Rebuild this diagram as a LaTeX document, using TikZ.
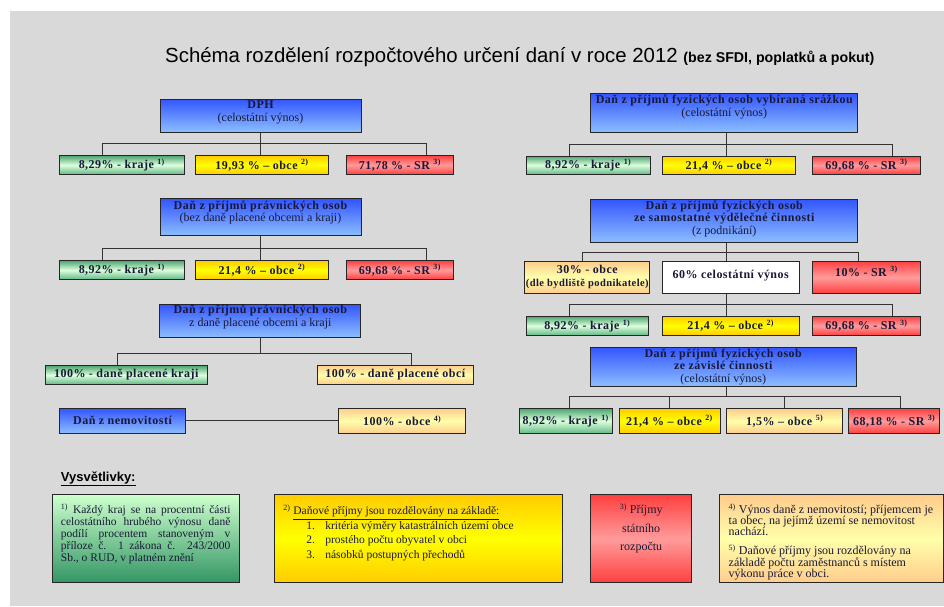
\documentclass[tikz,border=0pt]{standalone}
\usepackage{fontspec}
\setmainfont{Liberation Serif}[BoldFeatures={LetterSpace=4.0}]
\newfontfamily\headfont{Liberation Sans}
\usetikzlibrary{positioning, calc}

\definecolor{bgGray}{RGB}{217,217,217}
\definecolor{inkBlue}{RGB}{25,25,55}
\definecolor{blueTop}{RGB}{51,85,255}
\definecolor{blueBot}{RGB}{140,190,255}
\definecolor{greenTop}{RGB}{80,165,115}
\definecolor{greenMid}{RGB}{220,255,220}
\definecolor{greenBot}{RGB}{100,185,135}
\definecolor{yelTop}{RGB}{255,204,0}
\definecolor{yelMid}{RGB}{255,255,0}
\definecolor{redTop}{RGB}{255,64,64}
\definecolor{redMid}{RGB}{255,155,155}
\definecolor{orTop}{RGB}{255,204,140}
\definecolor{orMid}{RGB}{255,255,170}
\definecolor{legGreenTop}{RGB}{204,255,204}
\definecolor{legGreenBot}{RGB}{51,150,100}

\newcommand{\fnref}[1]{\textsuperscript{#1)}}
\newcommand{\subline}[1]{{\mdseries #1}}

\tikzset{
  box/.style={draw=black!85, line width=1pt, inner sep=1pt, align=center, text=inkBlue,
    font=\fontsize{12}{12.5}\selectfont\bfseries},
  taxbox/.style={box, top color=blueTop, bottom color=blueBot},
  krajbox/.style={box, top color=greenTop, bottom color=greenBot, middle color=greenMid},
  obecbox/.style={box, top color=yelTop, bottom color=yelTop, middle color=yelMid},
  srbox/.style={box, top color=redTop, bottom color=redTop, middle color=redMid},
  restbox/.style={box, top color=orTop, bottom color=orTop, middle color=orMid},
  lift/.style={text depth=#1},
  link/.style={draw=black!80, line width=0.8pt},
  legbox/.style={draw=black!85, line width=1pt, inner sep=0pt, text=inkBlue,
    minimum height=87.7pt, font=\fontsize{12}{12}\selectfont},
}

\begin{document}
\begin{tikzpicture}[x=1pt, y=-1pt]
  % page and grey sheet
  \fill[white] (0,0) rectangle (944,606);
  \fill[bgGray] (10,11) rectangle (944,606);
  \useasboundingbox (0,0) rectangle (944,606);

  % title
  \node[anchor=base west, inner sep=0pt, text=black, font=\headfont\fontsize{20.4}{21}\selectfont] (title) at (165,62)
    {Schéma rozdělení rozpočtového určení daní v roce 2012 {\bfseries\fontsize{14.2}{15}\selectfont(bez SFDI, poplatků a pokut)}};

  % ---- left column ----
  % DPH
  \node[taxbox, lift=8.6pt, minimum width=201pt, minimum height=33pt] (dph) at (260.5,115.5) {DPH\\\subline{(celostátní výnos)}};
  \node[krajbox, minimum width=125pt, minimum height=18.6pt] (dphK) at (121.8,165) {8,29\% - kraje \fnref{1}};
  \node[obecbox, minimum width=133.4pt, minimum height=18.6pt] (dphO) at (262,165) {19,93 \% – obce \fnref{2}};
  \node[srbox, minimum width=107.7pt, minimum height=18.6pt] (dphS) at (399.9,165) {71,78 \% - SR \fnref{3}};
  \coordinate (dphbus) at (0,143.3);
  \draw[link] (dph.south) -- (dph.south |- dphO.north);
  \draw[link] ([xshift=-19.8pt]dphK.north) |- ([xshift=26.1pt]dphS.north |- dphbus) -- ([xshift=26.1pt]dphS.north);

  % DPPO bez dane obci a kraju
  \node[taxbox, lift=12.6pt, minimum width=201pt, minimum height=36.7pt] (ppo) at (260.5,217.3) {Daň z příjmů právnických osob\\\subline{(bez daně placené obcemi a kraji)}};
  \node[krajbox, minimum width=125pt, minimum height=18.6pt] (ppoK) at (121.8,270) {8,92\% - kraje \fnref{1}};
  \node[obecbox, minimum width=133.4pt, minimum height=18.6pt] (ppoO) at (262,270) {21,4 \% – obce \fnref{2}};
  \node[srbox, minimum width=107.7pt, minimum height=18.6pt] (ppoS) at (399.9,270) {69,68 \% - SR \fnref{3}};
  \coordinate (ppobus) at (0,248.7);
  \draw[link] (ppo.south) -- (ppo.south |- ppoO.north);
  \draw[link] ([xshift=-19.8pt]ppoK.north) |- ([xshift=26.1pt]ppoS.north |- ppobus) -- ([xshift=26.1pt]ppoS.north);

  % DPPO placena obcemi a kraji
  \node[taxbox, lift=9.8pt, minimum width=200.7pt, minimum height=33.3pt] (ppz) at (260.3,320.7) {Daň z příjmů právnických osob\\\subline{z daně placené obcemi a kraji}};
  \node[krajbox, minimum width=162.3pt, minimum height=18.6pt] (ppzK) at (126.2,375) {100\% - daně placené kraji};
  \node[restbox, minimum width=156pt, minimum height=18.6pt] (ppzO) at (395.3,375) {100\% - daně placené obcí};
  \coordinate (ppzbus) at (0,353.3);
  \draw[link] (ppz.south) -- (ppz.south |- ppzbus);
  \draw[link] ([xshift=-9.2pt]ppzK.north) |- ([xshift=16.4pt]ppzO.north |- ppzbus) -- ([xshift=16.4pt]ppzO.north);

  % dan z nemovitosti
  \node[taxbox, minimum width=126.4pt, minimum height=25pt] (nem) at (122.5,420.8) {Daň z nemovitostí};
  \node[restbox, minimum width=126.7pt, minimum height=25pt] (nemO) at (402.3,420.8) {100\% - obce \fnref{4}};
  \draw[link] (nem) -- (nemO);

  % ---- right column ----
  % srazkova dan
  \node[taxbox, lift=14.6pt, minimum width=267.3pt, minimum height=39pt] (fos) at (724.3,112.8) {Daň z příjmů fyzických osob vybíraná srážkou\\\subline{(celostátní výnos)}};
  \node[krajbox, minimum width=124.3pt, minimum height=18.3pt] (fosK) at (588.2,165.2) {8,92\% - kraje \fnref{1}};
  \node[obecbox, minimum width=133.4pt, minimum height=18.3pt] (fosO) at (729,165.2) {21,4 \% – obce \fnref{2}};
  \node[srbox, minimum width=107.6pt, minimum height=18.3pt] (fosS) at (866.5,165.2) {69,68 \% - SR \fnref{3}};
  \coordinate (fosbus) at (0,144.3);
  \draw[link] ([xshift=2.4pt]fos.south) -- ([xshift=2.4pt]fos.south |- fosO.north);
  \draw[link] ([xshift=-18.9pt]fosK.north) |- ([xshift=26.2pt]fosS.north |- fosbus) -- ([xshift=26.2pt]fosS.north);

  % podnikani
  \node[taxbox, lift=7pt, minimum width=267.3pt, minimum height=43.3pt] (fop) at (724.3,220.7) {Daň z příjmů fyzických osob\\ze samostatné výdělečné činnosti\\\subline{(z podnikání)}};
  \node[restbox, minimum width=122pt, minimum height=32.3pt] (fopO) at (587.3,277.2) {30\% - obce\\{\fontsize{10.5}{11.5}\selectfont(dle bydliště podnikatele)}};
  \node[box, fill=white, lift=6pt, minimum width=136.7pt, minimum height=32.3pt] (fopC) at (730.7,277.2) {60\% celostátní výnos};
  \node[srbox, lift=12pt, minimum width=108.4pt, minimum height=32.3pt] (fopS) at (866.5,277.2) {10\% - SR \fnref{3}};
  \coordinate (fopbus) at (0,252.5);
  \draw[link] ([xshift=2.4pt]fop.south) -- ([xshift=2.4pt]fop.south |- fopbus);
  \draw[link] ([xshift=-4.8pt]fopO.north) |- ([xshift=-8.5pt]fopS.north |- fopbus) -- ([xshift=-8.5pt]fopS.north);
  \draw[link] ([xshift=-4pt]fopC.north) -- ([xshift=-4pt]fopC.north |- fopbus);

  % celostatni vynos z podnikani
  \node[krajbox, minimum width=122pt, minimum height=19pt] (fcvK) at (587.3,325.8) {8,92\% - kraje \fnref{1}};
  \node[obecbox, minimum width=136.7pt, minimum height=19pt] (fcvO) at (730.7,325.8) {21,4 \% – obce \fnref{2}};
  \node[srbox, minimum width=108.4pt, minimum height=19pt] (fcvS) at (866.5,325.8) {69,68 \% - SR \fnref{3}};
  \coordinate (fcvbus) at (0,304);
  \draw[link] ([xshift=-4pt]fopC.south) -- ([xshift=-4pt]fcvO.north);
  \draw[link] ([xshift=-18pt]fcvK.north) |- ([xshift=25.8pt]fcvS.north |- fcvbus) -- ([xshift=25.8pt]fcvS.north);

  % zavisla cinnost
  \node[taxbox, minimum width=265.7pt, minimum height=38.7pt] (foz) at (723.2,366.7) {Daň z příjmů fyzických osob\\ze závislé činnosti\\\subline{(celostátní výnos)}};
  \node[krajbox, minimum width=93.3pt, minimum height=24.6pt] (fozK) at (565.7,421) {8,92\% - kraje \fnref{1}};
  \node[obecbox, minimum width=101pt, minimum height=24.6pt] (fozO) at (669.5,421) {21,4 \% – obce \fnref{2}};
  \node[restbox, minimum width=116pt, minimum height=24.6pt] (fozP) at (784.7,421) {1,5\% – obce \fnref{5}};
  \node[srbox, minimum width=91.3pt, minimum height=24.6pt] (fozS) at (894.3,421) {68,18 \% - SR \fnref{3}};
  \coordinate (fozbus) at (0,396.7);
  \draw[link] ([xshift=3.5pt]foz.south) -- ([xshift=3.5pt]foz.south |- fozbus);
  \draw[link] ([xshift=3.6pt]fozK.north) |- ([xshift=5.7pt]fozS.north |- fozbus) -- ([xshift=5.7pt]fozS.north);
  \draw[link] (fozO.north) -- (fozO.north |- fozbus);
  \draw[link] (fozP.north) -- (fozP.north |- fozbus);

  % ---- legend ----
  \node[anchor=base west, inner sep=0pt, text=black, font=\headfont\bfseries\fontsize{13}{13}\selectfont] (legTitle) at (60.7,481.5) {\underline{Vysvětlivky:}};

  \node[legbox, top color=legGreenTop, bottom color=legGreenBot, minimum width=186.7pt] (leg1) at (145.7,538.8)
    {\parbox[c][87.7pt][t]{169.5pt}{\vspace*{9pt}\fontsize{11.5}{11.8}\selectfont
      \makebox[\linewidth][s]{\fnref{1} Každý kraj se na procentní části}\\
      \makebox[\linewidth][s]{celostátního hrubého výnosu daně}\\
      \makebox[\linewidth][s]{podílí procentem stanoveným v}\\
      \makebox[\linewidth][s]{příloze č. 1 zákona č. 243/2000}\\
      Sb., o RUD, v platném znění}};

  \node[legbox, top color=yelTop, bottom color=yelTop, middle color=yelMid, minimum width=288pt] (leg2) at (418.3,538.8)
    {\parbox[c][87.7pt][t]{270pt}{\vspace*{10pt}\fontsize{11.5}{14.5}\selectfont
      \mbox{\fnref{2} \underline{Daňové příjmy jsou rozdělovány na základě:}}\\
      \mbox{\hspace*{23pt}\makebox[19pt][l]{1.}kritéria výměry katastrálních území obce}\\
      \mbox{\hspace*{23pt}\makebox[19pt][l]{2.}prostého počtu obyvatel v obci}\\
      \mbox{\hspace*{23pt}\makebox[19pt][l]{3.}násobků postupných přechodů}}};

  \node[legbox, top color=redTop, bottom color=redTop, middle color=redMid, minimum width=101pt] (leg3) at (641.2,538.8)
    {\parbox[c][87.7pt][t]{95pt}{\vspace*{9pt}\centering\fontsize{12}{18.3}\selectfont
      \fnref{3} Příjmy\\státního\\rozpočtu}};

  \node[legbox, top color=orTop, bottom color=orTop, middle color=orMid, minimum width=223.7pt] (leg4) at (831.2,538.8)
    {\parbox[c][87.7pt][t]{205pt}{\vspace*{8.5pt}\fontsize{12}{11.3}\selectfont
      \mbox{\fnref{4} Výnos daně z nemovitostí; příjemcem je}\\
      \mbox{ta obec, na jejímž území se nemovitost}\\
      \mbox{nachází.}\\[7.5pt]
      \mbox{\fnref{5} Daňové příjmy jsou rozdělovány na}\\
      \mbox{základě počtu zaměstnanců s místem}\\
      \mbox{výkonu práce v obci.}}};
\end{tikzpicture}
\end{document}
